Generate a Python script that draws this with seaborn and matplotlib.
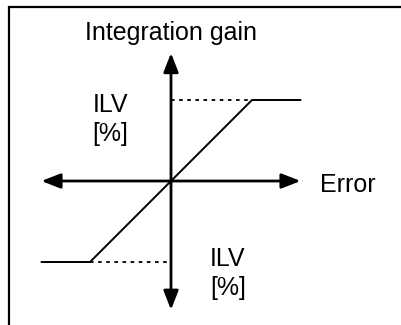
import numpy as np
import pandas as pd
import seaborn as sns
import matplotlib.pyplot as plt
from matplotlib.patches import Rectangle

# Curva de saturacion: error vs ganancia de integracion
error = [-1.6, -1.0, 1.0, 1.6]
gain = [-1.0, -1.0, 1.0, 1.0]
ilv = 1.0

# Extremos de los ejes con flechas
x_axis = [-1.6, 1.6]
y_axis = [-1.59, 1.58]

# Textos
title_text = "Integration gain"
x_text = "Error"
ilv_text = ["ILV", "[%]"]

sns.set_style("white")
plt.rcParams['font.family'] = ['Liberation Sans', 'DejaVu Sans']
plt.rcParams['text.color'] = 'black'

fig = plt.figure(figsize=(4.01, 3.25), dpi=100)
ax = fig.add_axes([0, 0, 1, 1])

df = pd.DataFrame({'Error': error, 'Gain': gain})
sns.lineplot(data=df, x='Error', y='Gain', color='black', linewidth=1.4, ax=ax, sort=False)

# Lineas punteadas hasta el eje vertical
ax.plot([0, ilv], [ilv, ilv], color='black', linestyle=(0, (2, 2.5)), linewidth=1.3)
ax.plot([-ilv, 0], [-ilv, -ilv], color='black', linestyle=(0, (2, 2.5)), linewidth=1.3)

# Ejes con flechas en ambos extremos
arrow = dict(arrowstyle='<|-|>,head_length=1.15,head_width=0.45', color='black',
             linewidth=2, shrinkA=0, shrinkB=0, mutation_scale=10)
ax.annotate('', xy=(x_axis[1], 0), xytext=(x_axis[0], 0), arrowprops=arrow)
ax.annotate('', xy=(0, y_axis[1]), xytext=(0, y_axis[0]), arrowprops=arrow)

# Textos
fs = 18
ax.text(0, 1.74, title_text, ha='center', va='baseline', fontsize=fs)
ax.text(1.84, -0.14, x_text, ha='left', va='baseline', fontsize=fs)
ax.text(-0.75, 0.85, ilv_text[0], ha='center', va='baseline', fontsize=fs)
ax.text(-0.75, 0.49, ilv_text[1], ha='center', va='baseline', fontsize=fs)
ax.text(0.70, -1.05, ilv_text[0], ha='center', va='baseline', fontsize=fs)
ax.text(0.70, -1.41, ilv_text[1], ha='center', va='baseline', fontsize=fs)

ax.set_xlim(-171 / 81, 230 / 81)
ax.set_ylim(-144 / 81, 181 / 81)
ax.axis('off')

# Marco del diagrama (recortado a la derecha y abajo)
fig.patches.append(Rectangle((9 / 401, -0.05), 1.1, 1 - 7 / 325 + 0.05,
                             transform=fig.transFigure, fill=False,
                             edgecolor='black', linewidth=1.6))

plt.savefig('out.png', dpi=100)
